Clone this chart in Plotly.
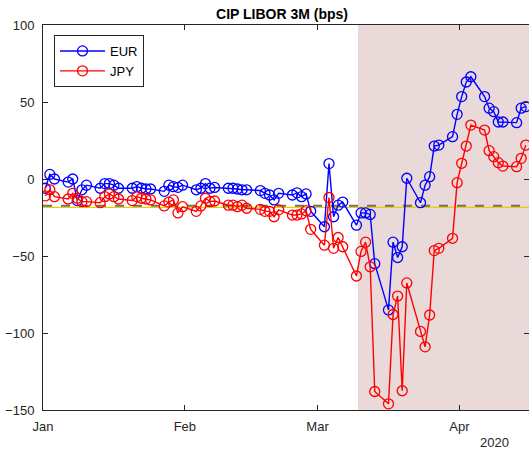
import pandas as pd
import plotly.graph_objects as go

# ---- data ----
dates = pd.bdate_range("2020-01-01", "2020-04-15")

eur = [
    -6, 3, 0, -2, 0, -14, -7, -4, -6, -3, -3, -4, -6, -6, -5, -6, -6.5, -6.5, -8, -4, -5, -5.4, -4,
    -7, -6, -3, -6, -5.5, -6, -6, -6.5, -7, -7, -7.5, -9.3, -10.4, -13.6, -9.3, -10.4, -9, -11.5, -9.7, -21,
    -31, 10, -24.5, -17, -15, -30, -22, -22, -23, -55, -85, -41, -51, -44, 0.5, -15.4, -4, 1.5, 21.4, 22, 27.5, 42,
    53.5, 63, 66.4, 53.5, 46, 43.7, 37, 37, 36.6, 46, 47,
]
jpy = [
    -11, -7, -11.5, -13, -9.3, -12.5, -14.7, -14.7, -15.4, -11.5, -9.7, -11.5, -13, -14, -11.5, -12.5, -13, -13.6, -17.5, -15, -13.6, -22, -18,
    -21, -17.5, -12.5, -14.7, -14.3, -17, -17, -18, -17, -19, -19.7, -21, -21, -24.5, -20, -23.4, -23.4, -22.7, -20.6, -32.7,
    -43, -12, -45, -38, -44, -63, -47, -41, -57, -138, -146, -88, -76, -137.5, -67.5, -99, -109, -88.3, -46.5, -45, -38.5, -2.4,
    10.2, 21.4, 35, 31.8, 18.4, 14.5, 10.6, 8.4, 8, 13.4, 22,
]
ref_dashed = -17.3
ref_yellow = -18.4
shade_start = "2020-03-09 20:00"
x_end = "2020-04-16 05:00"
tick_vals = ["2020-01-01", "2020-02-01", "2020-03-01", "2020-04-01"]
tick_text = ["Jan", "Feb", "Mar", "Apr"]

xpos = dates + pd.Timedelta(hours=12)

FONT = "Liberation Sans, Arial, sans-serif"
AX = "#262626"
W, H = 529, 454
L, R, T, B = 43, 0, 25, 44
PW, PH = W - L - R, H - T - B

fig = go.Figure()
fig.add_trace(go.Scatter(
    x=xpos, y=eur, name="EUR", mode="lines+markers",
    line=dict(color="#0000FF", width=1.4),
    marker=dict(symbol="circle-open", size=10, color="#0000FF", line=dict(width=1.3)),
))
fig.add_trace(go.Scatter(
    x=xpos, y=jpy, name="JPY", mode="lines+markers",
    line=dict(color="#FF0000", width=1.4),
    marker=dict(symbol="circle-open", size=10, color="#FF0000", line=dict(width=1.3)),
))

fig.add_shape(type="rect", xref="x", yref="paper", x0=shade_start, x1=x_end, y0=0, y1=1,
              fillcolor="#E9D9D9", line=dict(width=0), layer="below")
fig.add_shape(type="line", xref="paper", yref="y", x0=0, x1=1, y0=ref_yellow, y1=ref_yellow,
              line=dict(color="#E8D000", width=1.3), layer="below")
fig.add_shape(type="line", xref="paper", yref="y", x0=0, x1=1, y0=ref_dashed, y1=ref_dashed,
              line=dict(color="#6E6E6E", width=2, dash="dash"), layer="below")

fig.update_layout(
    width=W, height=H,
    margin=dict(l=L, r=R, t=T, b=B, autoexpand=False),
    paper_bgcolor="white", plot_bgcolor="white",
    font=dict(family=FONT, size=13, color=AX),
    title=dict(text="<b>CIP LIBOR 3M (bps)</b>", x=282 / W, xanchor="center",
               y=1 - 14 / H, yanchor="middle", font=dict(size=14, color="black", family=FONT)),
    showlegend=True,
    legend=dict(x=(54 - L) / PW, y=1 - (35 - T) / PH, xanchor="left", yanchor="top",
                bgcolor="white", bordercolor=AX, borderwidth=1,
                font=dict(size=13, color="black", family=FONT),
                tracegroupgap=0, itemwidth=45),
)
fig.update_xaxes(
    range=["2020-01-01", x_end], type="date", automargin=False,
    tickvals=tick_vals, ticktext=tick_text,
    ticks="inside", ticklen=5, tickcolor=AX, tickwidth=1,
    showline=True, linecolor=AX, linewidth=1, mirror="allticks",
    showgrid=False, zeroline=False, ticklabelstandoff=4,
    tickfont=dict(size=13, color=AX, family=FONT),
)
fig.update_yaxes(
    range=[-150, 100], tickvals=[-150, -100, -50, 0, 50, 100], automargin=False,
    ticks="inside", ticklen=5, tickcolor=AX, tickwidth=1,
    showline=True, linecolor=AX, linewidth=1, mirror="allticks",
    showgrid=False, zeroline=False, ticklabelstandoff=5,
    tickfont=dict(size=13, color=AX, family=FONT),
)
fig.add_annotation(text="2020", xref="paper", yref="paper", x=1 - 18 / PW, y=-33 / PH,
                   xanchor="right", yanchor="middle", showarrow=False,
                   font=dict(size=13, color=AX, family=FONT))

fig.write_html("out.html", config={"displayModeBar": False},
               post_script="document.body.style.margin='0';document.body.style.overflow='hidden';")
